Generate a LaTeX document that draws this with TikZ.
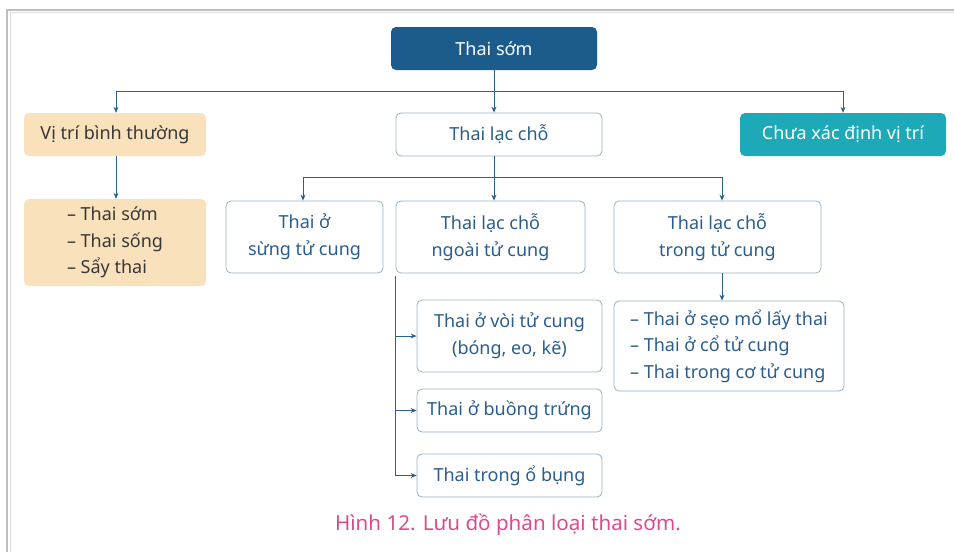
\documentclass[tikz,border=0pt]{standalone}
\usepackage{fontspec}
\setmainfont{Noto Sans}
\usetikzlibrary{arrows.meta}
\definecolor{dblue}{HTML}{1C5C8C}
\definecolor{teal1}{HTML}{1DA9B8}
\definecolor{beige}{HTML}{F8E1BB}
\definecolor{bord}{HTML}{92B2CB}
\definecolor{lineb}{HTML}{2A5F8F}
\definecolor{txtb}{HTML}{2B5E8C}
\definecolor{txtg}{HTML}{383838}
\definecolor{pinkc}{HTML}{DA4B8F}
\definecolor{frame1}{HTML}{BEBEBE}
\definecolor{frame2}{HTML}{DCDCDC}
\tikzset{
  box/.style={rounded corners=5pt, inner sep=0pt, align=center, font=\fontsize{18}{26.5}\selectfont},
  wbox/.style={box, draw=bord, line width=0.8pt, fill=white, text=txtb},
  bbox/.style={box, fill=beige, text=txtg},
  conn/.style={draw=lineb, line width=0.9pt},
  arr/.style={conn, -{Stealth[length=6pt,width=5pt]}},
}
\begin{document}
\begin{tikzpicture}[x=1pt,y=-1pt]
\useasboundingbox (0,0) rectangle (954,552);
% frame
\draw[frame1, line width=2pt] (6.5,552) -- (6.5,9.5) -- (954,9.5);
\draw[frame2, line width=1pt] (10,552) -- (10,12.5) -- (954,12.5);
% nodes
\node[box, fill=dblue, text=white, minimum width=206pt, minimum height=43pt] (top) at (494,48.5) {Thai sớm};
\node[bbox, minimum width=182pt, minimum height=43pt] (vtb) at (115,134.5) {Vị trí bình thường};
\node[wbox, minimum width=206pt, minimum height=43pt] (tlc) at (499,134.5) {Thai lạc chỗ};
\node[box, fill=teal1, text=white, minimum width=206pt, minimum height=43pt] (cxd) at (843,134.5) {Chưa xác định vị trí};
\node[bbox, minimum width=182pt, minimum height=87pt, align=left] (list1) at (115,242.5) {– Thai sớm\\– Thai sống\\– Sẩy thai};
\node[wbox, minimum width=157pt, minimum height=72pt] (sung) at (304.5,237) {Thai ở\\sừng tử cung};
\node[wbox, minimum width=189pt, minimum height=72pt] (ngoai) at (490.5,237) {Thai lạc chỗ\\ngoài tử cung};
\node[wbox, minimum width=207pt, minimum height=72pt] (trong) at (717.5,237) {Thai lạc chỗ\\trong tử cung};
\node[wbox, minimum width=185pt, minimum height=72pt] (voi) at (509.5,336) {Thai ở vòi tử cung\\(bóng, eo, kẽ)};
\node[wbox, minimum width=185pt, minimum height=43pt] (buong) at (509.5,410.5) {Thai ở buồng trứng};
\node[wbox, minimum width=185pt, minimum height=43pt] (obung) at (509.5,475.5) {Thai trong ổ bụng};
\node[wbox, minimum width=230pt, minimum height=90pt, align=left] (list2) at (729,346) {– Thai ở sẹo mổ lấy thai\\– Thai ở cổ tử cung\\– Thai trong cơ tử cung};
\node[font=\fontsize{20.6}{24}\selectfont, text=pinkc, inner sep=0pt] (cap) at (508,525) {Hình 12. Lưu đồ phân loại thai sớm.};
% connectors level 1
\coordinate (j1) at ([yshift=-21pt]top.south);
\draw[conn] (top.south) -- (j1);
\draw[arr] (j1) -| ([xshift=1pt]vtb.north);
\draw[arr] (j1) -| (cxd.north);
\draw[arr] (j1) -- (top.south |- tlc.north);
% vtb to list
\draw[arr] ([xshift=1pt]vtb.south) -- ([xshift=1pt]list1.north);
% level 2
\coordinate (t2) at ([xshift=-5pt]tlc.south);
\coordinate (j2) at ([yshift=-21pt]t2);
\draw[conn] (t2) -- (j2);
\draw[arr] (j2) -| ([xshift=-1.5pt]sung.north);
\draw[arr] (j2) -| ([xshift=4.5pt]trong.north);
\draw[arr] (j2) -- (j2 |- ngoai.north);
% trong to list2
\draw[arr] ([xshift=4.5pt]trong.south) -- ([xshift=4.5pt]trong.south |- list2.north);
% ngoai branches
\draw[conn] ([yshift=-3pt]ngoai.south west) -- (ngoai.south west |- obung.west);
\draw[arr] (ngoai.south west |- voi.west) -- (voi.west);
\draw[arr] (ngoai.south west |- buong.west) -- (buong.west);
\draw[arr] (ngoai.south west |- obung.west) -- (obung.west);
\end{tikzpicture}
\end{document}
